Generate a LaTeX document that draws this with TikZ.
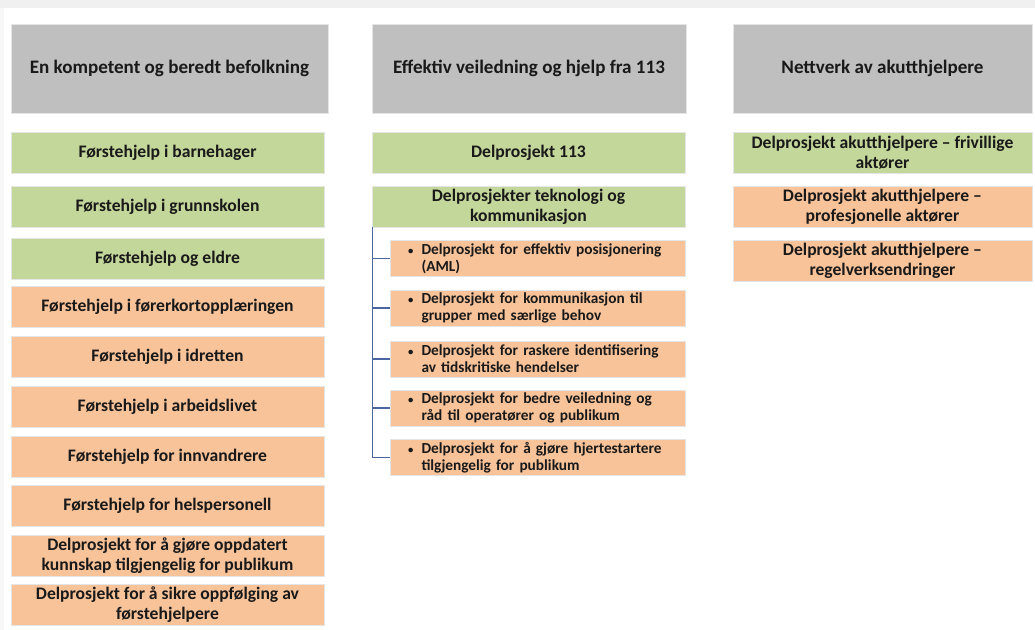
\documentclass[tikz,border=0pt]{standalone}
\usepackage{fontspec}
\setmainfont{Carlito}
\definecolor{hodegraa}{HTML}{BFBFBF}
\definecolor{groenn}{HTML}{C4D79B}
\definecolor{oransje}{HTML}{F9C39A}
\definecolor{linjeblaa}{HTML}{4A66A0}
\tikzset{
  hode/.style={fill=hodegraa, draw=black!10, inner sep=0pt, minimum height=66.75pt,
    font=\bfseries\fontsize{14.3}{16}\selectfont, text=black!90},
  boks/.style={fill=#1, draw=black!10, inner sep=0pt, minimum height=30.75pt, align=center,
    font=\bfseries\fontsize{13.2}{15}\selectfont, text=black!90},
  punkt/.style={fill=oransje, draw=black!10, inner xsep=9.5pt, inner ysep=0pt, minimum height=27pt,
    text width=202pt, align=left, font=\bfseries\fontsize{11.5}{12.75}\selectfont, text=black!90},
  gren/.style={draw=linjeblaa, line width=1pt}
}
\begin{document}
\begin{tikzpicture}[x=0.75pt,y=-0.75pt]
  \useasboundingbox (0,0) rectangle (1035,630);
  \fill[black!6] (0,0) rectangle (1035,8);
  \fill[black!3] (0,8) rectangle (4,630);

  \foreach \x/\w/\t [count=\i] in {169.5/317/En kompetent og beredt befolkning,
      529/314/Effektiv veiledning og hjelp fra 113, 882.5/299/Nettverk av akutthjelpere}
    \node[hode, minimum width=0.75*\w pt] (h\i) at (\x,68.5) {\t};

  \foreach \y/\c/\t [count=\i] in {153/groenn/Førstehjelp i barnehager,
      206.5/groenn/Førstehjelp i grunnskolen, 259/groenn/Førstehjelp og eldre,
      306.5/oransje/Førstehjelp i førerkortopplæringen, 356.5/oransje/Førstehjelp i idretten,
      406.5/oransje/Førstehjelp i arbeidslivet, 456.5/oransje/Førstehjelp for innvandrere,
      506/oransje/Førstehjelp for helspersonell,
      555.5/oransje/{Delprosjekt for å gjøre oppdatert\\kunnskap tilgjengelig for publikum},
      604.5/oransje/{Delprosjekt for å sikre oppfølging av\\førstehjelpere}}
    \node[boks=\c, minimum width=234.75pt] (b\i) at (167.5,\y) {\t};

  \node[boks=groenn, minimum width=234.75pt] (v1) at (528.5,153) {Delprosjekt 113};
  \node[boks=groenn, minimum width=234.75pt] (tk) at (528.5,206.5) {Delprosjekter teknologi og\\kommunikasjon};

  \foreach \y/\a/\b [count=\i] in {258.5/Delprosjekt for effektiv posisjonering/(AML),
      308/Delprosjekt for kommunikasjon til/grupper med særlige behov,
      359/Delprosjekt for raskere identifisering/av tidskritiske hendelser,
      408/Delprosjekt for bedre veiledning og/råd til operatører og publikum,
      457.5/Delprosjekt for å gjøre hjertestartere/tilgjengelig for publikum}
  {
    \node[punkt] (s\i) at (537.5,\y) {\makebox[14pt][l]{\hspace{4pt}{\fontsize{8}{8}\selectfont\textbullet}}\a\\\hspace*{14pt}\b};
    \draw[gren] ([xshift=0.75pt]tk.south west) |- (s\i.west);
  }

  \foreach \y/\c/\t [count=\i] in {152.5/groenn/{Delprosjekt akutthjelpere – frivillige\\aktører},
      206.5/oransje/{Delprosjekt akutthjelpere –\\profesjonelle aktører},
      261/oransje/{Delprosjekt akutthjelpere –\\regelverksendringer}}
    \node[boks=\c, minimum width=224.25pt] (n\i) at (882.5,\y) {\t};
\end{tikzpicture}
\end{document}
